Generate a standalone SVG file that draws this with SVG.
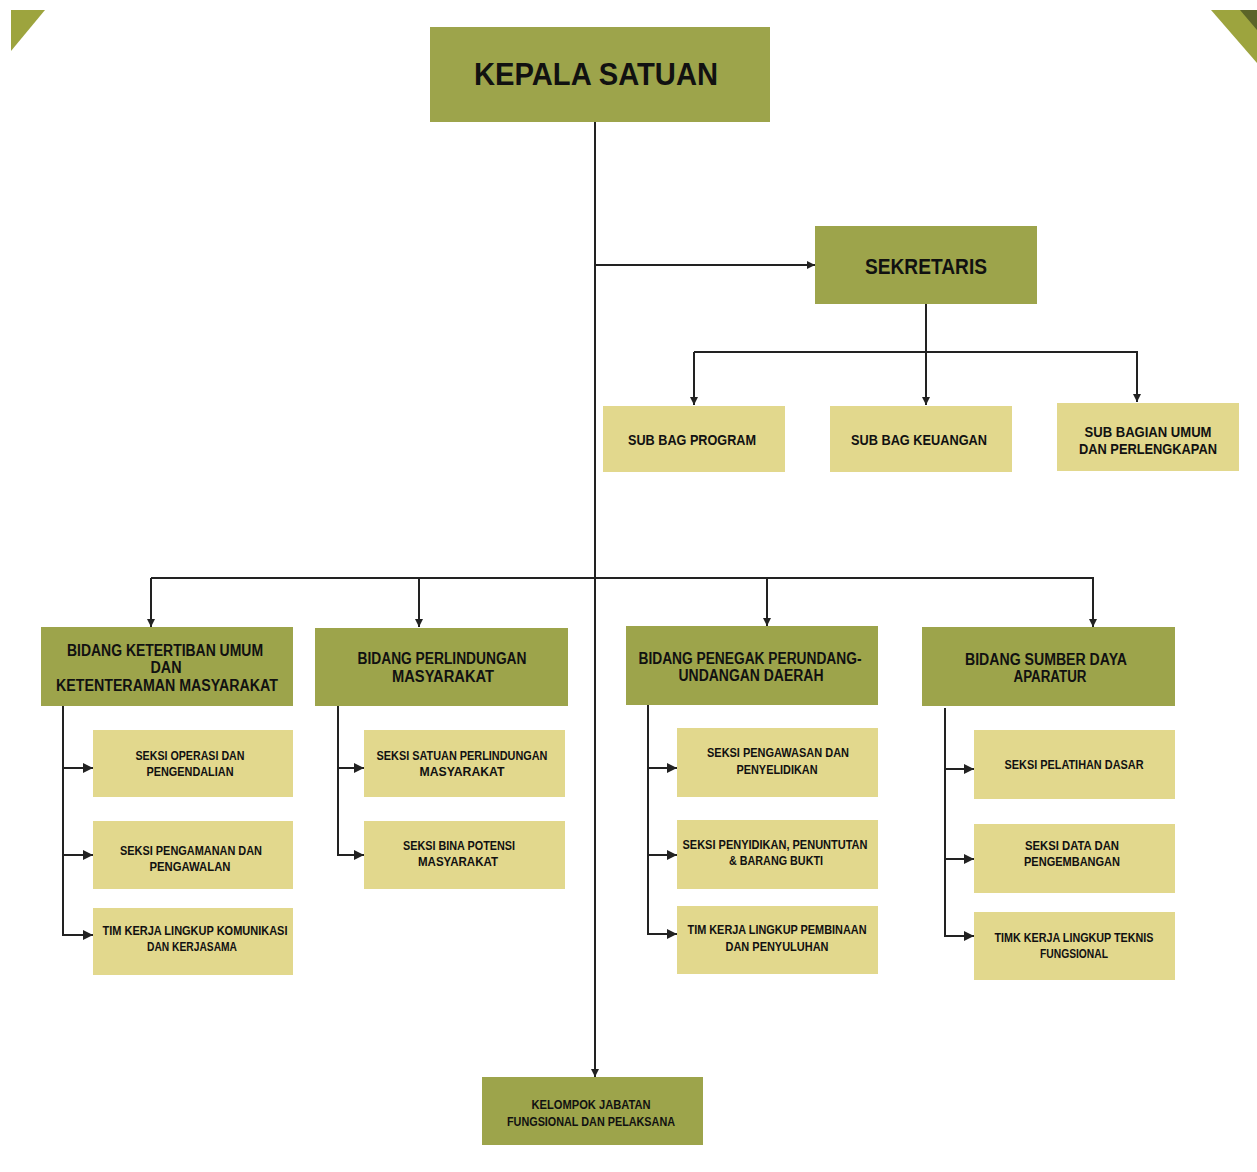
<svg xmlns="http://www.w3.org/2000/svg" width="1257" height="1172" viewBox="0 0 1257 1172">
<defs>
<style>
.dk{fill:#9da44b}
.lt{fill:#e2d88d}
text{font-family:"Liberation Sans",Arial,sans-serif;font-weight:bold;fill:#111;text-anchor:middle;dominant-baseline:central}
.c{fill:none;stroke:#222;stroke-width:2}
</style>
<marker id="ah" viewBox="0 0 10 10" refX="10" refY="5" markerWidth="8" markerHeight="8" markerUnits="userSpaceOnUse" orient="auto">
<path d="M0,0L10,5L0,10z" fill="#222"/>
</marker>
<marker id="ah2" viewBox="0 0 10 10" refX="10" refY="5" markerWidth="10" markerHeight="10" markerUnits="userSpaceOnUse" orient="auto">
<path d="M0,0L10,5L0,10z" fill="#222"/>
</marker>
</defs>
<rect width="1257" height="1172" fill="#fff"/>
<polygon points="11,10 45,10 11,51" fill="#9da43e"/>
<polygon points="1211,10 1257,10 1257,63" fill="#9da43e"/>
<polygon points="1240,10 1257,10 1257,30" fill="#5c6428"/>

<g id="connectors">
<path class="c" d="M595,122V1077" marker-end="url(#ah)"/>
<path class="c" d="M595,265H815" marker-end="url(#ah)"/>
<path class="c" d="M926,304V405" marker-end="url(#ah)"/>
<path class="c" d="M694,352H1137V402" marker-end="url(#ah)"/>
<path class="c" d="M694,352V405" marker-end="url(#ah)"/>
<path class="c" d="M151,578H1093V627" marker-end="url(#ah)"/>
<path class="c" d="M151,578V627" marker-end="url(#ah)"/>
<path class="c" d="M419,578V627" marker-end="url(#ah)"/>
<path class="c" d="M767,578V626" marker-end="url(#ah)"/>
<path class="c" d="M63,706V935H93" marker-end="url(#ah2)"/>
<path class="c" d="M63,768H93" marker-end="url(#ah2)"/>
<path class="c" d="M63,855H93" marker-end="url(#ah2)"/>
<path class="c" d="M338,706V855H364" marker-end="url(#ah2)"/>
<path class="c" d="M338,768H364" marker-end="url(#ah2)"/>
<path class="c" d="M648,705V934H677" marker-end="url(#ah2)"/>
<path class="c" d="M648,768H677" marker-end="url(#ah2)"/>
<path class="c" d="M648,855H677" marker-end="url(#ah2)"/>
<path class="c" d="M945,708V936H974" marker-end="url(#ah2)"/>
<path class="c" d="M945,769H974" marker-end="url(#ah2)"/>
<path class="c" d="M945,859H974" marker-end="url(#ah2)"/>
</g>

<g id="kepala"><rect class="dk" x="430" y="27" width="340" height="95"/><text x="596" y="74" font-size="31" textLength="244" lengthAdjust="spacingAndGlyphs">KEPALA SATUAN</text></g>
<g id="sekretaris"><rect class="dk" x="815" y="226" width="222" height="78"/><text x="926" y="266" font-size="22" textLength="122" lengthAdjust="spacingAndGlyphs">SEKRETARIS</text></g>

<g id="subprogram"><rect class="lt" x="603" y="406" width="182" height="66"/><text x="692" y="439" font-size="15" textLength="128" lengthAdjust="spacingAndGlyphs">SUB BAG PROGRAM</text></g>
<g id="subkeuangan"><rect class="lt" x="830" y="406" width="182" height="66"/><text x="919" y="439" font-size="15" textLength="136" lengthAdjust="spacingAndGlyphs">SUB BAG KEUANGAN</text></g>
<g id="subumum"><rect class="lt" x="1057" y="403" width="182" height="68"/><text x="1148" y="431" font-size="15" textLength="127" lengthAdjust="spacingAndGlyphs">SUB BAGIAN UMUM</text><text x="1148" y="448" font-size="15" textLength="138" lengthAdjust="spacingAndGlyphs">DAN PERLENGKAPAN</text></g>

<g id="bidang1"><rect class="dk" x="41" y="627" width="252" height="79"/><text x="165" y="650" font-size="16" textLength="196" lengthAdjust="spacingAndGlyphs">BIDANG KETERTIBAN UMUM</text><text x="166" y="667" font-size="16" textLength="31" lengthAdjust="spacingAndGlyphs">DAN</text><text x="167" y="685" font-size="16" textLength="222" lengthAdjust="spacingAndGlyphs">KETENTERAMAN MASYARAKAT</text></g>
<g id="bidang2"><rect class="dk" x="315" y="628" width="253" height="78"/><text x="442" y="658" font-size="16" textLength="169" lengthAdjust="spacingAndGlyphs">BIDANG PERLINDUNGAN</text><text x="443" y="676" font-size="16" textLength="102" lengthAdjust="spacingAndGlyphs">MASYARAKAT</text></g>
<g id="bidang3"><rect class="dk" x="626" y="626" width="252" height="79"/><text x="750" y="658" font-size="16" textLength="223" lengthAdjust="spacingAndGlyphs">BIDANG PENEGAK PERUNDANG-</text><text x="751" y="675" font-size="16" textLength="145" lengthAdjust="spacingAndGlyphs">UNDANGAN DAERAH</text></g>
<g id="bidang4"><rect class="dk" x="922" y="627" width="253" height="79"/><text x="1046" y="659" font-size="16" textLength="162" lengthAdjust="spacingAndGlyphs">BIDANG SUMBER DAYA</text><text x="1050" y="676" font-size="16" textLength="73" lengthAdjust="spacingAndGlyphs">APARATUR</text></g>

<g id="seksi-operasi"><rect class="lt" x="93" y="730" width="200" height="67"/><text x="190" y="756" font-size="12" textLength="109" lengthAdjust="spacingAndGlyphs">SEKSI OPERASI DAN</text><text x="190" y="772" font-size="12" textLength="87" lengthAdjust="spacingAndGlyphs">PENGENDALIAN</text></g>
<g id="seksi-pengamanan"><rect class="lt" x="93" y="821" width="200" height="68"/><text x="191" y="851" font-size="12" textLength="142" lengthAdjust="spacingAndGlyphs">SEKSI PENGAMANAN DAN</text><text x="190" y="867" font-size="12" textLength="81" lengthAdjust="spacingAndGlyphs">PENGAWALAN</text></g>
<g id="tim-komunikasi"><rect class="lt" x="93" y="908" width="200" height="67"/><text x="195" y="931" font-size="12" textLength="185" lengthAdjust="spacingAndGlyphs">TIM KERJA LINGKUP KOMUNIKASI</text><text x="192" y="947" font-size="12" textLength="90" lengthAdjust="spacingAndGlyphs">DAN KERJASAMA</text></g>

<g id="seksi-satuan"><rect class="lt" x="364" y="730" width="201" height="67"/><text x="462" y="756" font-size="12" textLength="171" lengthAdjust="spacingAndGlyphs">SEKSI SATUAN PERLINDUNGAN</text><text x="462" y="772" font-size="12" textLength="85" lengthAdjust="spacingAndGlyphs">MASYARAKAT</text></g>
<g id="seksi-bina"><rect class="lt" x="364" y="821" width="201" height="68"/><text x="459" y="846" font-size="12" textLength="112" lengthAdjust="spacingAndGlyphs">SEKSI BINA POTENSI</text><text x="458" y="862" font-size="12" textLength="80" lengthAdjust="spacingAndGlyphs">MASYARAKAT</text></g>

<g id="seksi-pengawasan"><rect class="lt" x="677" y="728" width="201" height="69"/><text x="778" y="753" font-size="12" textLength="142" lengthAdjust="spacingAndGlyphs">SEKSI PENGAWASAN DAN</text><text x="777" y="770" font-size="12" textLength="81" lengthAdjust="spacingAndGlyphs">PENYELIDIKAN</text></g>
<g id="seksi-penyidikan"><rect class="lt" x="677" y="820" width="201" height="69"/><text x="775" y="845" font-size="12" textLength="185" lengthAdjust="spacingAndGlyphs">SEKSI PENYIDIKAN, PENUNTUTAN</text><text x="776" y="861" font-size="12" textLength="94" lengthAdjust="spacingAndGlyphs">&amp; BARANG BUKTI</text></g>
<g id="tim-pembinaan"><rect class="lt" x="677" y="906" width="201" height="68"/><text x="777" y="930" font-size="12" textLength="179" lengthAdjust="spacingAndGlyphs">TIM KERJA LINGKUP PEMBINAAN</text><text x="777" y="947" font-size="12" textLength="103" lengthAdjust="spacingAndGlyphs">DAN PENYULUHAN</text></g>

<g id="seksi-pelatihan"><rect class="lt" x="974" y="730" width="201" height="69"/><text x="1074" y="765" font-size="12" textLength="139" lengthAdjust="spacingAndGlyphs">SEKSI PELATIHAN DASAR</text></g>
<g id="seksi-data"><rect class="lt" x="974" y="824" width="201" height="69"/><text x="1072" y="846" font-size="12" textLength="94" lengthAdjust="spacingAndGlyphs">SEKSI DATA DAN</text><text x="1072" y="862" font-size="12" textLength="96" lengthAdjust="spacingAndGlyphs">PENGEMBANGAN</text></g>
<g id="tim-teknis"><rect class="lt" x="974" y="912" width="201" height="68"/><text x="1074" y="938" font-size="12" textLength="159" lengthAdjust="spacingAndGlyphs">TIMK KERJA LINGKUP TEKNIS</text><text x="1074" y="954" font-size="12" textLength="68" lengthAdjust="spacingAndGlyphs">FUNGSIONAL</text></g>

<g id="kelompok"><rect class="dk" x="482" y="1077" width="221" height="68"/><text x="591" y="1105" font-size="12" textLength="119" lengthAdjust="spacingAndGlyphs">KELOMPOK JABATAN</text><text x="591" y="1122" font-size="12" textLength="168" lengthAdjust="spacingAndGlyphs">FUNGSIONAL DAN PELAKSANA</text></g>
</svg>
